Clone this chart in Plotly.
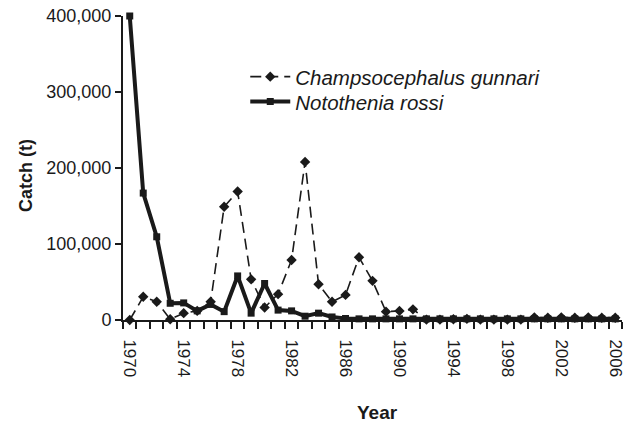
import plotly.graph_objects as go

years = list(range(1970, 2007))

gunnari = [0, 30500, 24000, 1000, 9000, 12000, 24000, 149000, 169000, 53500,
           16500, 34000, 79000, 208000, 47000, 24000, 33000, 82500, 51500, 11000,
           12000, 14000, 500, 500, 1000, 1500, 500, 500, 500, 500,
           3500, 3000, 3500, 3000, 3500, 3000, 3000]

rossi = [400000, 167000, 109500, 22000, 22500, 12000, 20500, 11000, 58000, 9000,
         48000, 13000, 12000, 5000, 9000, 4000, 2000, 1500, 1500, 1500,
         1500, 1500, 1500, 1500, 1500, 1500, 1500, 1500, 1500, 1500,
         1500, 1500, 1500, 1500, 1500, 1500, 1500]

tick_years = list(range(1970, 2007, 4))
y_ticks = [0, 100000, 200000, 300000, 400000]
y_tick_labels = ["0", "100,000", "200,000", "300,000", "400,000"]

ink = "#1a1a1a"
font = "Liberation Sans, Arial, sans-serif"

fig = go.Figure()
fig.add_trace(go.Scatter(
    x=years, y=gunnari, mode="lines+markers",
    name="<i>Champsocephalus gunnari</i>",
    line=dict(color=ink, width=1.6, dash="11px,6px"),
    marker=dict(symbol="diamond", size=8, color=ink),
    cliponaxis=False, legend="legend",
))
fig.add_trace(go.Scatter(
    x=years, y=rossi, mode="lines+markers",
    name="<i>Notothenia rossi</i>",
    line=dict(color=ink, width=4),
    marker=dict(symbol="square", size=7, color=ink),
    cliponaxis=False, legend="legend2",
))

leg_common = dict(xanchor="left", yanchor="middle", bgcolor="rgba(0,0,0,0)",
                  font=dict(size=20.5, color=ink), itemwidth=40)

fig.update_layout(
    width=634, height=428,
    margin=dict(l=123, r=12, t=16, b=108, autoexpand=False),
    paper_bgcolor="white", plot_bgcolor="white",
    font=dict(family=font, size=17, color=ink),
    showlegend=True,
    legend=dict(x=0.245, y=0.80, **leg_common),
    legend2=dict(x=0.245, y=0.718, **leg_common),
    xaxis=dict(
        range=[1969.5, 2006.5], showgrid=False, zeroline=False,
        showline=True, linecolor=ink, linewidth=2, automargin=False,
        tickmode="array", tickvals=tick_years,
        ticktext=[str(y) for y in tick_years],
        tickangle=90, ticks="", ticklen=0, ticklabelstandoff=14,
        ticklabeloverflow="allow",
        tickfont=dict(size=17, color=ink),
        minor=dict(ticks="outside", tick0=1969.5, dtick=1, ticklen=7,
                   tickwidth=2, tickcolor=ink, showgrid=False),
    ),
    yaxis=dict(
        range=[0, 400000], showgrid=False, zeroline=False,
        showline=True, linecolor=ink, linewidth=2, automargin=False,
        tickmode="array", tickvals=y_ticks, ticktext=y_tick_labels,
        ticks="outside", ticklen=6, tickwidth=2, tickcolor=ink,
        ticklabeloverflow="allow",
        tickfont=dict(size=18, color=ink),
    ),
    annotations=[
        dict(text="<b>Catch (t)</b>", xref="paper", yref="paper",
             x=-0.194, y=0.474, textangle=-90, showarrow=False,
             xanchor="center", yanchor="middle", font=dict(size=18, color=ink)),
        dict(text="<b>Year</b>", xref="paper", yref="paper",
             x=0.51, y=-0.305, showarrow=False,
             xanchor="center", yanchor="middle", font=dict(size=19, color=ink)),
    ],
)

# Remove the browser's default 8px body margin so the figure fills the window.
fig.write_html("out.html", config={"displayModeBar": False},
               post_script="document.body.style.margin='0';")
